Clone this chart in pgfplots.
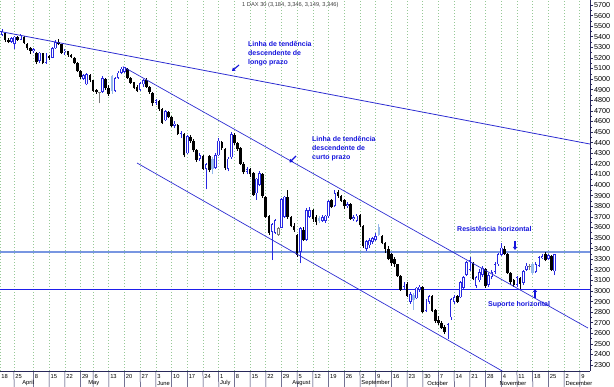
\documentclass[border=0pt]{standalone}
\usepackage{fontspec}
\setmainfont{Liberation Sans}
\usepackage{pgfplots}
\usepackage{pgfplotstable}
\pgfplotsset{compat=1.18}
\usetikzlibrary{arrows.meta}

\definecolor{cblue}{RGB}{40,40,225}
\definecolor{clight}{RGB}{150,185,235}
\definecolor{cgrey}{RGB}{120,120,120}
\definecolor{tblue}{RGB}{45,45,210}
\definecolor{sblue}{RGB}{30,30,235}
\definecolor{resist}{RGB}{120,150,225}
\definecolor{gridg}{RGB}{150,200,150}
\definecolor{anno}{RGB}{20,20,220}
\definecolor{navy}{RGB}{40,40,90}

\pgfplotsset{
  wick/.style={forget plot, draw=#1, line width=0.7pt, quiver={u=0, v={\thisrow{H}-\thisrow{L}}}},
  body/.style={forget plot, draw=#1, line width=2.6pt, quiver={u=0, v={max(abs(\thisrow{C}-\thisrow{O}),6)}}},
  hollow/.style={forget plot, draw=white, line width=1.0pt, quiver={u=0, v={max(abs(\thisrow{C}-\thisrow{O})-14,0)}}},
}

% rising candles (close > open), hollow blue
\pgfplotstableread{
i O H L C
0 5415 5470 5405 5450
3 5355 5395 5345 5385
4 5330 5405 5285 5400
6 5370 5430 5365 5420
10 5265 5290 5250 5280
12 5170 5260 5150 5250
14 5150 5250 5145 5230
16 5200 5300 5195 5290
17 5290 5365 5285 5350
20 5255 5280 5230 5270
26 5000 5050 4990 5040
27 4950 5060 4940 5050
32 4880 5025 4870 5010
36 4890 5020 4880 5010
37 5010 5075 5000 5060
38 5060 5110 5045 5100
39 5070 5118 5060 5110
44 4900 4970 4890 4960
45 4950 5000 4930 4990
49 4775 4810 4760 4800
52 4610 4710 4600 4700
55 4560 4600 4540 4580
57 4480 4510 4440 4490
59 4300 4475 4290 4460
63 4250 4300 4230 4280
65 4150 4210 3960 4200
68 4160 4300 4150 4280
69 4280 4440 4270 4420
72 4150 4260 4130 4250
73 4260 4500 4250 4480
78 4125 4170 4100 4150
81 3920 4070 3860 4060
82 4000 4130 3990 4110
86 3560 3640 3290 3630
87 3550 3680 3540 3670
89 3595 3880 3590 3870
90 3700 3900 3690 3890
95 3370 3600 3260 3590
97 3480 3780 3470 3760
98 3700 3790 3690 3760
102 3660 3720 3650 3700
103 3660 3720 3640 3710
104 3705 3860 3690 3850
106 3800 3950 3790 3920
110 3800 3835 3780 3820
112 3680 3720 3660 3700
113 3660 3730 3650 3710
116 3400 3480 3380 3470
117 3430 3500 3410 3480
118 3460 3510 3440 3500
119 3480 3550 3470 3520
128 3040 3080 3010 3060
130 2900 2990 2880 2970
132 2930 3040 2920 3030
133 3010 3060 2990 3040
135 2810 2920 2800 2900
136 2900 2960 2880 2950
142 2590 2700 2550 2690
143 2750 2935 2730 2920
144 2900 2960 2880 2940
146 2940 3090 2930 3080
147 3030 3140 3020 3130
148 3150 3280 3140 3270
149 3200 3320 3190 3290
151 3050 3140 3030 3130
152 3100 3210 3080 3180
153 3150 3240 3130 3220
155 3060 3170 3040 3150
156 3130 3200 3110 3180
157 3180 3270 3160 3250
158 3250 3360 3240 3350
159 3340 3450 3330 3410
164 3060 3140 3040 3130
166 3075 3200 3060 3190
167 3200 3260 3190 3240
170 3180 3270 3170 3250
171 3240 3330 3230 3320
172 3310 3345 3300 3330
174 3300 3350 3290 3340
176 3185 3350 3150 3345
}\cup

% falling candles, filled black
\pgfplotstableread{
i O H L C
1 5440 5445 5350 5370
2 5370 5385 5340 5355
5 5395 5410 5360 5370
7 5400 5405 5330 5340
8 5330 5340 5275 5290
9 5290 5300 5235 5270
11 5250 5255 5140 5160
13 5245 5250 5140 5150
15 5220 5230 5180 5195
18 5355 5380 5320 5330
19 5330 5335 5240 5250
21 5265 5270 5210 5225
22 5225 5240 5195 5210
23 5200 5205 5140 5150
24 5150 5160 5065 5075
25 5080 5085 5005 5020
28 5040 5050 4970 4990
29 4990 4995 4880 4890
30 4895 4910 4860 4880
33 5000 5010 4900 4920
34 4920 4945 4840 4855
40 5100 5105 5000 5010
41 5010 5020 4955 4965
42 4970 4975 4905 4920
43 4925 4940 4880 4890
46 4990 5010 4920 4930
47 4930 4935 4860 4880
48 4870 4880 4750 4770
50 4790 4800 4700 4720
51 4720 4730 4575 4590
53 4690 4700 4630 4640
54 4640 4650 4550 4560
56 4570 4580 4470 4480
58 4480 4490 4260 4280
60 4450 4470 4400 4420
61 4420 4430 4310 4330
62 4330 4340 4220 4240
64 4270 4280 4140 4150
66 4270 4280 4120 4140
70 4410 4420 4330 4350
71 4340 4350 4140 4160
74 4470 4490 4380 4400
75 4400 4410 4320 4340
76 4345 4360 4190 4200
77 4200 4215 4100 4120
79 4150 4160 4080 4100
80 4110 4120 3900 3910
83 4100 4110 3880 3900
84 3890 3900 3690 3700
85 3710 3720 3530 3550
91 3890 3950 3680 3700
92 3700 3710 3600 3610
93 3610 3640 3560 3580
94 3530 3535 3320 3340
96 3580 3600 3470 3480
99 3760 3770 3650 3680
100 3700 3720 3620 3650
105 3860 3870 3780 3790
107 3930 3955 3880 3900
108 3900 3910 3840 3850
109 3860 3870 3770 3800
111 3820 3830 3670 3680
114 3720 3730 3600 3620
115 3610 3620 3410 3420
121 3520 3530 3440 3450
122 3450 3460 3360 3400
123 3400 3420 3290 3300
124 3350 3360 3240 3260
125 3300 3320 3230 3250
126 3250 3255 3130 3140
127 3140 3150 3000 3010
129 3070 3080 2940 2950
134 3040 3050 2790 2800
137 2950 2960 2800 2810
138 2820 2830 2700 2720
139 2730 2760 2680 2700
140 2700 2720 2640 2650
141 2660 2680 2590 2610
145 2950 2960 2890 2900
150 3260 3270 3100 3110
154 3210 3220 3030 3050
160 3400 3420 3340 3350
161 3350 3360 3160 3170
162 3170 3180 3060 3080
163 3100 3110 3040 3060
165 3120 3130 3020 3070
173 3350 3370 3280 3290
175 3330 3340 3190 3200
}\cdown

% falling candles shown light blue
\pgfplotstableread{
i O H L C
35 5030 5040 4860 4890
67 4250 4260 4100 4150
101 3690 3710 3640 3665
120 3600 3635 3520 3530
131 2960 2980 2820 2910
169 3250 3260 3150 3170
}\clt

% rising candles shown grey
\pgfplotstableread{
i O H L C
31 4870 4880 4770 4875
88 3530 3600 3520 3590
168 3225 3250 3200 3235
}\cgr

\begin{document}
\begin{tikzpicture}
\useasboundingbox (0,0) rectangle (614pt,387pt);
\begin{axis}[
  at={(0pt,16pt)}, anchor=south west,
  scale only axis, width=590pt, height=371pt,
  xmin=-0.637, xmax=187.26, ymin=2244, ymax=5747,
  axis x line=bottom, axis y line=right,
  axis line style={-, draw=navy, line width=0.6pt},
  clip=false,
  xtick={-0.637,3.8,10,15,20,25,29,34,39,44,49,54,59,64,69,74,79,84,89,94,99,104,109,114,119,124,129,134,139,144,149,154,159,164,169,174,179,184},
  xticklabels={18,25,8,15,22,29,6,13,20,27,3,10,17,24,1,8,15,22,29,5,12,19,26,2,9,16,23,30,7,14,21,28,4,11,18,25,2,9},
  major x tick style={draw=none},
  xmajorgrids,
  x grid style={gridg, line width=0.6pt, dash pattern=on 0.7pt off 2.3pt},
  xticklabel style={font=\fontsize{5.8}{6}\selectfont, anchor=west, inner sep=0pt, xshift=1.3pt, yshift=-4pt},
  ytick={2300,2400,...,5700}, minor y tick num=1,
  ytick align=outside, major tick length=3pt, minor tick length=1.8pt,
  tick style={navy, line width=0.5pt},
  yticklabel style={font=\fontsize{7.2}{7.2}\selectfont, inner sep=1pt},
  /pgf/number format/1000 sep={},
  /pgf/number format/assume math mode=true,
]
% horizontal resistance / support
\addplot[resist, line width=1.6pt] coordinates {(-0.637,3368) (187.26,3368)};
\addplot[sblue, line width=0.9pt] coordinates {(-0.637,3018) (187.26,3018)};
% wicks
\addplot[wick=cblue] table[x=i, y=L] {\cup};
\addplot[wick=black] table[x=i, y=L] {\cdown};
\addplot[wick=clight] table[x=i, y=L] {\clt};
\addplot[wick=cgrey] table[x=i, y=L] {\cgr};
% bodies
\addplot[body=cblue] table[x=i, y=O] {\cup};
\addplot[body=black] table[x=i, y=C] {\cdown};
\addplot[body=clight] table[x=i, y=C] {\clt};
\addplot[body=cgrey] table[x=i, y=O] {\cgr};
% hollow interiors
\addplot[hollow] table[x=i, y expr={\thisrow{O}+7}] {\cup};
\addplot[hollow] table[x=i, y expr={\thisrow{O}+7}] {\cgr};

% trend lines
\addplot[tblue, line width=0.8pt] coordinates {(-0.637,5450) (187.26,4387)};
\addplot[tblue, line width=0.7pt] coordinates {(38.5,5118) (186.6,2650)};
\addplot[tblue, line width=0.7pt] coordinates {(43,4208) (159.3,2244)};

% date strip: day separators
\pgfplotsinvokeforeach{3.8,10,15,20,25,29,34,39,44,49,54,59,64,69,74,79,84,89,94,99,104,109,114,119,124,129,134,139,144,149,154,159,164,169,174,179,184}{
  \draw[navy, line width=0.5pt] (axis cs:#1,2244) -- ++(0,-7.5pt);
}
\draw[navy, line width=0.5pt] (axis cs:-0.637,2244) ++(0,-7.5pt) -- ++(590pt,0);
\draw[gridg, line width=0.7pt] (axis cs:-0.637,2244) ++(0,-9pt) -- ++(590pt,0);
% months
\pgfplotsinvokeforeach{6,27,49,69,92,114,135,158,179}{
  \draw[navy, line width=0.5pt] (axis cs:#1,2244) ++(0,-7.5pt) -- ++(0,-8.5pt);
}
\node[anchor=west, inner sep=0pt, font=\fontsize{5.8}{6}\selectfont, xshift=1.3pt, yshift=-12.3pt] at (axis cs:6,2244) {April};
\node[anchor=west, inner sep=0pt, font=\fontsize{5.8}{6}\selectfont, xshift=1.3pt, yshift=-12.3pt] at (axis cs:27,2244) {May};
\node[anchor=west, inner sep=0pt, font=\fontsize{5.8}{6}\selectfont, xshift=1.3pt, yshift=-12.3pt] at (axis cs:49,2244) {June};
\node[anchor=west, inner sep=0pt, font=\fontsize{5.8}{6}\selectfont, xshift=1.3pt, yshift=-12.3pt] at (axis cs:69,2244) {July};
\node[anchor=west, inner sep=0pt, font=\fontsize{5.8}{6}\selectfont, xshift=1.3pt, yshift=-12.3pt] at (axis cs:92,2244) {August};
\node[anchor=west, inner sep=0pt, font=\fontsize{5.8}{6}\selectfont, xshift=1.3pt, yshift=-12.3pt] at (axis cs:114,2244) {September};
\node[anchor=west, inner sep=0pt, font=\fontsize{5.8}{6}\selectfont, xshift=1.3pt, yshift=-12.3pt] at (axis cs:135,2244) {October};
\node[anchor=west, inner sep=0pt, font=\fontsize{5.8}{6}\selectfont, xshift=1.3pt, yshift=-12.3pt] at (axis cs:158,2244) {November};
\node[anchor=west, inner sep=0pt, font=\fontsize{5.8}{6}\selectfont, xshift=1.3pt, yshift=-12.3pt] at (axis cs:179,2244) {December};
\end{axis}

% title
\node[anchor=west, inner sep=0pt, font=\fontsize{5.7}{6}\selectfont, text=black!75] at (242pt,382pt) {1 DAX 30 (3,184, 3,346, 3,149, 3,346)};

% annotations
\node[anchor=north west, align=left, inner sep=0pt, text=anno, font=\fontsize{7}{9}\selectfont\bfseries] at (248pt,346pt) {Linha de tendência\\descendente de\\longo prazo};
\draw[anno, line width=1.1pt, -{Triangle[length=3pt,width=4pt]}] (239pt,322pt) -- (232pt,316pt);
\node[anchor=north west, align=left, inner sep=0pt, text=anno, font=\fontsize{7}{9}\selectfont\bfseries] at (312pt,251pt) {Linha de tendência\\descendente de\\curto prazo};
\draw[anno, line width=1.1pt, -{Triangle[length=3pt,width=4pt]}] (296pt,231pt) -- (289.5pt,224.5pt);
\node[anchor=north west, inner sep=0pt, text=anno, font=\fontsize{7}{9}\selectfont\bfseries] at (457pt,160.5pt) {Resistência horizontal};
\draw[anno, line width=1.1pt, -{Triangle[length=3pt,width=4pt]}] (515pt,146pt) -- (515pt,137pt);
\node[anchor=north west, inner sep=0pt, text=anno, font=\fontsize{7}{9}\selectfont\bfseries] at (488pt,85.5pt) {Suporte horizontal};
\draw[anno, line width=1.1pt, -{Triangle[length=3pt,width=4pt]}] (535pt,89pt) -- (535pt,98pt);
\end{tikzpicture}
\end{document}
